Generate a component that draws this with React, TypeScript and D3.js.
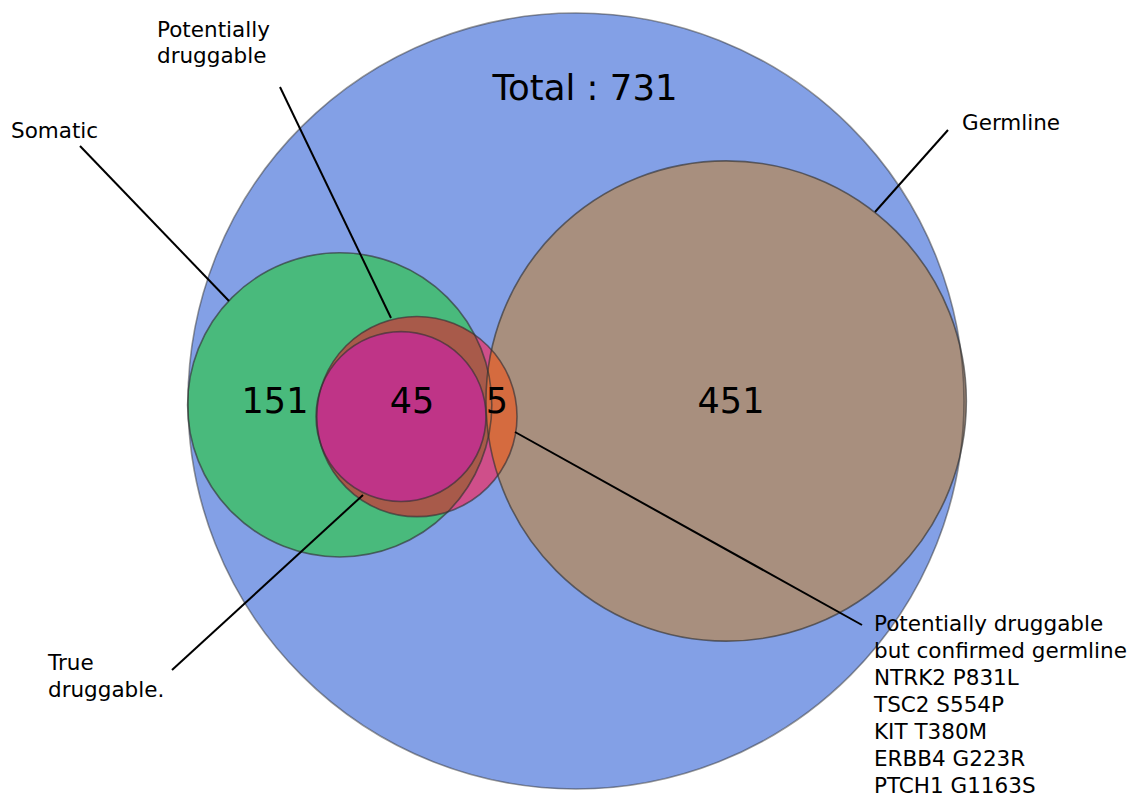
import React from "react";
import * as d3 from "d3";

// Sets (label, count shown in region)
const setNames = ["Total", "Somatic", "Germline", "Potentially druggable", "True druggable"];
const regionLabels = ["151", "45", "5", "451"];
const totalCount = 731;
const germlineVariants = ["NTRK2 P831L", "TSC2 S554P", "KIT T380M", "ERBB4 G223R", "PTCH1 G1163S"];

// layout in abstract units (circle centres / radii)
const circleCx = [0, -0.609, 0.387, -0.41, -0.451];
const circleCy = [0, 0.01, 0, 0.04, 0.04];
const circleR = [1, 0.392, 0.619, 0.258, 0.219];
const circleFill = ["#83a0e6", "#49ba7c", "#a88f7e", "#cf4f8a", "#bf3487"];
// colours of "potentially druggable" where it overlaps somatic / germline
const potSomaticFill = "#a85a4a";
const potGermlineFill = "#d56b3f";

const W = 1134;
const H = 798;

export default function App() {
  const x = d3.scaleLinear().domain([-1, 1]).range([188, 964]);
  const y = d3.scaleLinear().domain([-1, 1]).range([12, 790]);
  const rs = (v: number) => (v * (964 - 188)) / 2;

  const font = "DejaVu Sans, sans-serif";
  const line = d3.line();
  const circ = (i: number, props: any = {}) => (
    <circle cx={x(circleCx[i])} cy={y(circleCy[i])} r={rs(circleR[i])} {...props} />
  );

  const leaders: [number, number][][] = [
    [[80, 146], [229, 301]],
    [[280, 87], [391, 318]],
    [[948, 130], [875, 212]],
    [[172, 670], [363, 495]],
    [[515, 432], [862, 625]],
  ];

  const small = 21.5;

  return (
    <svg width={W} height={H} style={{ position: "absolute", left: 0, top: 0, background: "#fff" }}>
      <defs>
        <clipPath id="clipSom">{circ(1)}</clipPath>
        <clipPath id="clipGerm">{circ(2)}</clipPath>
      </defs>
      {[0, 2, 1, 3].map((i) => (
        <g key={i}>{circ(i, { fill: circleFill[i] })}</g>
      ))}
      {circ(3, { fill: potSomaticFill, clipPath: "url(#clipSom)" })}
      {circ(3, { fill: potGermlineFill, clipPath: "url(#clipGerm)" })}
      {circ(4, { fill: circleFill[4] })}
      {[0, 2, 1, 3, 4].map((i) => (
        <g key={"o" + i}>
          {circ(i, { fill: "none", stroke: "#333", strokeOpacity: i === 0 ? 0.5 : 0.65, strokeWidth: 1.6 })}
        </g>
      ))}
      {leaders.map((p, i) => (
        <path key={i} d={line(p) || ""} stroke="#000" strokeWidth={2} fill="none" />
      ))}
      <text x={585} y={100} fontFamily={font} fontSize={35.5} textAnchor="middle">
        {setNames[0]} : {totalCount}
      </text>
      {regionLabels.map((t, i) => {
        const px = [275, 412, 497, 731][i];
        return (
          <text key={i} x={px} y={413} fontFamily={font} fontSize={35} textAnchor="middle">
            {t}
          </text>
        );
      })}
      <text x={11} y={138} fontFamily={font} fontSize={small}>{setNames[1]}</text>
      <text x={962} y={130} fontFamily={font} fontSize={small}>{setNames[2]}</text>
      <text x={157} y={37} fontFamily={font} fontSize={small}>Potentially</text>
      <text x={157} y={63} fontFamily={font} fontSize={small}>druggable</text>
      <text x={48} y={670} fontFamily={font} fontSize={small}>True</text>
      <text x={48} y={697} fontFamily={font} fontSize={small}>druggable.</text>
      {["Potentially druggable", "but confirmed germline", ...germlineVariants].map((t, i) => (
        <text key={i} x={874} y={631 + i * 27} fontFamily={font} fontSize={small}>
          {t}
        </text>
      ))}
    </svg>
  );
}
